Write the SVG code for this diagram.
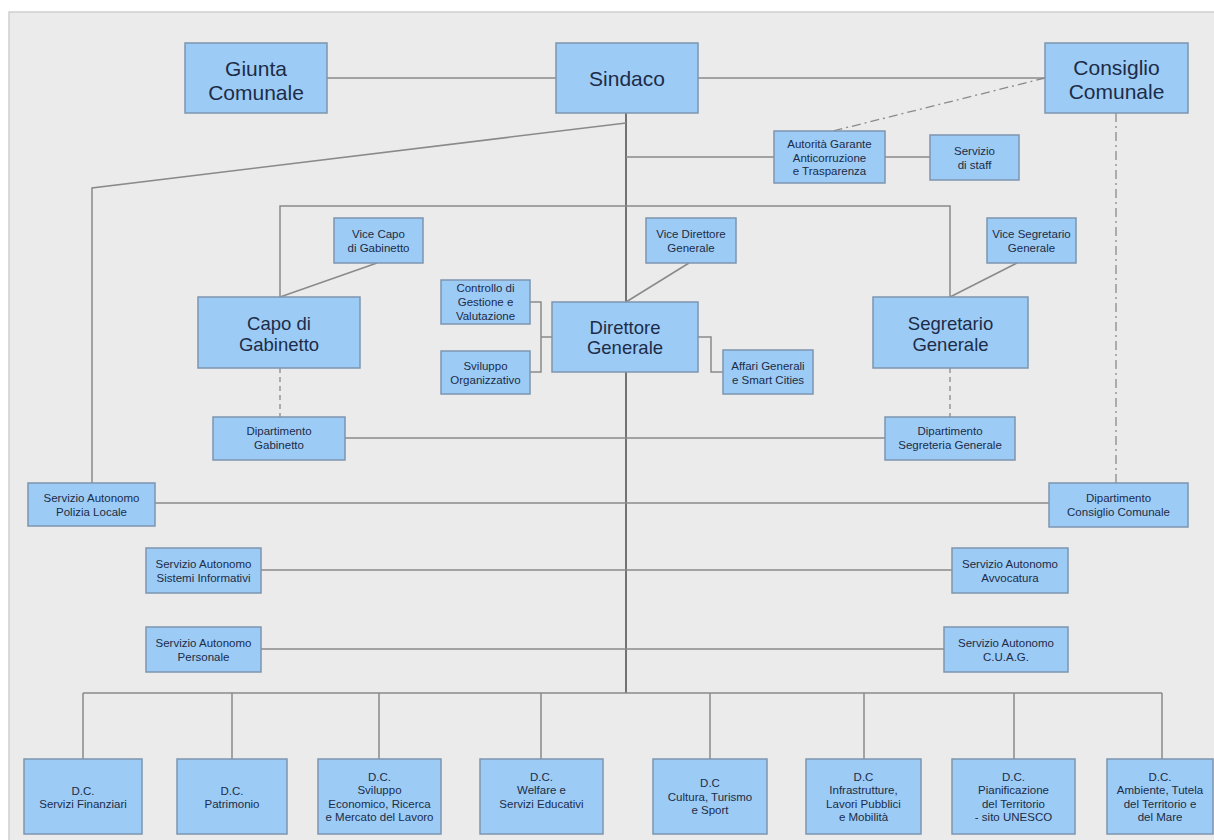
<svg xmlns="http://www.w3.org/2000/svg" width="1214" height="840" viewBox="0 0 1214 840">
<style>
.bg{fill:#ebebeb;stroke:#cfcfcf;stroke-width:1.5}
.box{fill:#9ccbf6;stroke:#7d95b0;stroke-width:1.5}
.ln{fill:none;stroke:#8a8a8a;stroke-width:1.5}
.main{fill:none;stroke:#4a4a4a;stroke-width:1.5}
.dash{fill:none;stroke:#8a8a8a;stroke-width:1.3;stroke-dasharray:5 4}
.dd{fill:none;stroke:#8a8a8a;stroke-width:1.3;stroke-dasharray:9 4 2 4}
text{font-family:"Liberation Sans",Arial,sans-serif;fill:#1d2c47;text-anchor:middle}
.t1{font-size:21px}
.t2{font-size:18.5px}
.s{font-size:11.5px}
</style>
<rect class="bg" x="9" y="12" width="1210" height="835"/>
<g id="connectors">
<line class="ln" x1="327" y1="78" x2="556" y2="78"/>
<line class="ln" x1="698" y1="78" x2="1045" y2="78"/>
<line class="main" x1="626" y1="113" x2="626" y2="693"/>
<polyline class="ln" points="626,123 92,188 92,483"/>
<line class="ln" x1="626" y1="157" x2="774" y2="157"/>
<line class="ln" x1="885" y1="157" x2="930" y2="157"/>
<line class="dd" x1="1045" y1="78" x2="833" y2="131"/>
<line class="dd" x1="1116" y1="113" x2="1116" y2="483"/>
<polyline class="ln" points="280,297 280,206 950,206 950,297"/>
<line class="ln" x1="377" y1="263" x2="280" y2="297"/>
<line class="ln" x1="689" y1="263" x2="626" y2="302"/>
<line class="ln" x1="1017" y1="263" x2="950" y2="297"/>
<polyline class="ln" points="530,302 541,302 541,372 530,372"/>
<line class="ln" x1="541" y1="337" x2="552" y2="337"/>
<polyline class="ln" points="698,337 711,337 711,372 723,372"/>
<line class="dash" x1="280" y1="368" x2="280" y2="417"/>
<line class="dash" x1="950" y1="368" x2="950" y2="417"/>
<line class="ln" x1="345" y1="438" x2="885" y2="438"/>
<line class="ln" x1="155" y1="503" x2="1049" y2="503"/>
<line class="ln" x1="261" y1="570" x2="952" y2="570"/>
<line class="ln" x1="261" y1="649" x2="944" y2="649"/>
<line class="ln" x1="83" y1="693" x2="1162" y2="693"/>
<line class="ln" x1="83" y1="693" x2="83" y2="759"/>
<line class="ln" x1="232" y1="693" x2="232" y2="759"/>
<line class="ln" x1="379" y1="693" x2="379" y2="759"/>
<line class="ln" x1="541" y1="693" x2="541" y2="759"/>
<line class="ln" x1="710" y1="693" x2="710" y2="759"/>
<line class="ln" x1="864" y1="693" x2="864" y2="759"/>
<line class="ln" x1="1014" y1="693" x2="1014" y2="759"/>
<line class="ln" x1="1162" y1="693" x2="1162" y2="759"/>
</g>
<g id="giunta"><rect class="box" x="185" y="43" width="142" height="70"/><text class="t1" x="256" y="75.5">Giunta</text><text class="t1" x="256" y="99.5">Comunale</text></g>
<g id="sindaco"><rect class="box" x="556" y="43" width="142" height="70"/><text class="t1" x="627" y="86">Sindaco</text></g>
<g id="consiglio"><rect class="box" x="1045" y="43" width="143" height="70"/><text class="t1" x="1116.5" y="74.5">Consiglio</text><text class="t1" x="1116.5" y="98.5">Comunale</text></g>
<g id="autorita"><rect class="box" x="774" y="131" width="111" height="52"/><text class="s" x="829.5" y="148">Autorità Garante</text><text class="s" x="829.5" y="161.5">Anticorruzione</text><text class="s" x="829.5" y="175">e Trasparenza</text></g>
<g id="staff"><rect class="box" x="930" y="135" width="89" height="45"/><text class="s" x="974.5" y="155">Servizio</text><text class="s" x="974.5" y="169">di staff</text></g>
<g id="vicecapo"><rect class="box" x="334" y="218" width="89" height="45"/><text class="s" x="378.5" y="238">Vice Capo</text><text class="s" x="378.5" y="251.5">di Gabinetto</text></g>
<g id="capo"><rect class="box" x="198" y="297" width="162" height="71"/><text class="t2" x="279" y="329.5">Capo di</text><text class="t2" x="279" y="350.5">Gabinetto</text></g>
<g id="vicedg"><rect class="box" x="646" y="218" width="90" height="45"/><text class="s" x="691" y="238">Vice Direttore</text><text class="s" x="691" y="251.5">Generale</text></g>
<g id="controllo"><rect class="box" x="441" y="280" width="89" height="44"/><text class="s" x="485.5" y="292">Controllo di</text><text class="s" x="485.5" y="306">Gestione e</text><text class="s" x="485.5" y="320">Valutazione</text></g>
<g id="direttore"><rect class="box" x="552" y="302" width="146" height="70"/><text class="t2" x="625" y="333.5">Direttore</text><text class="t2" x="625" y="353.5">Generale</text></g>
<g id="sviluppo"><rect class="box" x="441" y="351" width="89" height="43"/><text class="s" x="485.5" y="370">Sviluppo</text><text class="s" x="485.5" y="384">Organizzativo</text></g>
<g id="affari"><rect class="box" x="723" y="350" width="90" height="44"/><text class="s" x="768" y="370">Affari Generali</text><text class="s" x="768" y="384">e Smart Cities</text></g>
<g id="viceseg"><rect class="box" x="987" y="218" width="89" height="45"/><text class="s" x="1031.5" y="238">Vice Segretario</text><text class="s" x="1031.5" y="251.5">Generale</text></g>
<g id="segretario"><rect class="box" x="873" y="297" width="155" height="71"/><text class="t2" x="950.5" y="329.5">Segretario</text><text class="t2" x="950.5" y="350.5">Generale</text></g>
<g id="dipgab"><rect class="box" x="213" y="417" width="132" height="43"/><text class="s" x="279" y="435">Dipartimento</text><text class="s" x="279" y="449">Gabinetto</text></g>
<g id="dipseg"><rect class="box" x="885" y="417" width="130" height="43"/><text class="s" x="950" y="435">Dipartimento</text><text class="s" x="950" y="449">Segreteria Generale</text></g>
<g id="polizia"><rect class="box" x="28" y="483" width="127" height="43"/><text class="s" x="91.5" y="502">Servizio Autonomo</text><text class="s" x="91.5" y="516">Polizia Locale</text></g>
<g id="dipcc"><rect class="box" x="1049" y="483" width="139" height="44"/><text class="s" x="1118.5" y="502">Dipartimento</text><text class="s" x="1118.5" y="516">Consiglio Comunale</text></g>
<g id="sistemi"><rect class="box" x="146" y="548" width="115" height="45"/><text class="s" x="203.5" y="568">Servizio Autonomo</text><text class="s" x="203.5" y="581.5">Sistemi Informativi</text></g>
<g id="avvocatura"><rect class="box" x="952" y="548" width="116" height="45"/><text class="s" x="1010" y="568">Servizio Autonomo</text><text class="s" x="1010" y="581.5">Avvocatura</text></g>
<g id="personale"><rect class="box" x="146" y="627" width="115" height="45"/><text class="s" x="203.5" y="647">Servizio Autonomo</text><text class="s" x="203.5" y="661">Personale</text></g>
<g id="cuag"><rect class="box" x="944" y="627" width="124" height="45"/><text class="s" x="1006" y="647">Servizio Autonomo</text><text class="s" x="1006" y="661">C.U.A.G.</text></g>
<g id="dc1"><rect class="box" x="24" y="759" width="118" height="75"/><text class="s" x="83" y="795">D.C.</text><text class="s" x="83" y="808">Servizi Finanziari</text></g>
<g id="dc2"><rect class="box" x="177" y="759" width="110" height="75"/><text class="s" x="232" y="795">D.C.</text><text class="s" x="232" y="808">Patrimonio</text></g>
<g id="dc3"><rect class="box" x="318" y="759" width="123" height="75"/><text class="s" x="379.5" y="781">D.C.</text><text class="s" x="379.5" y="794.3">Sviluppo</text><text class="s" x="379.5" y="807.6">Economico, Ricerca</text><text class="s" x="379.5" y="821">e Mercato del Lavoro</text></g>
<g id="dc4"><rect class="box" x="480" y="759" width="123" height="75"/><text class="s" x="541.5" y="781">D.C.</text><text class="s" x="541.5" y="794.3">Welfare e</text><text class="s" x="541.5" y="807.6">Servizi Educativi</text></g>
<g id="dc5"><rect class="box" x="653" y="759" width="114" height="75"/><text class="s" x="710" y="787">D.C</text><text class="s" x="710" y="800.5">Cultura, Turismo</text><text class="s" x="710" y="814">e Sport</text></g>
<g id="dc6"><rect class="box" x="806" y="759" width="115" height="75"/><text class="s" x="863.5" y="781">D.C</text><text class="s" x="863.5" y="794.3">Infrastrutture,</text><text class="s" x="863.5" y="807.6">Lavori Pubblici</text><text class="s" x="863.5" y="821">e Mobilità</text></g>
<g id="dc7"><rect class="box" x="952" y="759" width="123" height="75"/><text class="s" x="1013.5" y="781">D.C.</text><text class="s" x="1013.5" y="794.3">Pianificazione</text><text class="s" x="1013.5" y="807.6">del Territorio</text><text class="s" x="1013.5" y="821">- sito UNESCO</text></g>
<g id="dc8"><rect class="box" x="1107" y="759" width="106" height="75"/><text class="s" x="1160" y="781">D.C.</text><text class="s" x="1160" y="794.3">Ambiente, Tutela</text><text class="s" x="1160" y="807.6">del Territorio e</text><text class="s" x="1160" y="821">del Mare</text></g>
</svg>
